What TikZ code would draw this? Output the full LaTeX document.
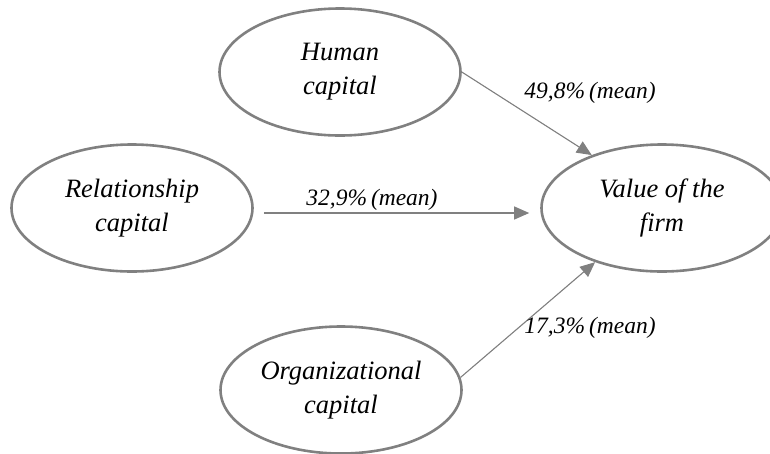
\documentclass[tikz,border=0pt]{standalone}
\usepackage{fontspec}
\setmainfont{Liberation Serif}
\usetikzlibrary{shapes.geometric,arrows.meta}
\definecolor{edgegrey}{HTML}{808080}
\begin{document}
\begin{tikzpicture}[x=1pt,y=-1pt,
  capbox/.style={ellipse,draw=edgegrey,line width=2.6pt,minimum width=241pt,minimum height=127pt,
    align=center,font=\fontsize{26.5}{34}\selectfont\itshape,inner sep=0pt},
  link/.style={draw=edgegrey,line width=1.1pt,-{Triangle[length=15pt,width=13pt]},fill=edgegrey},
  pct/.style={font=\fontsize{23.5}{26}\selectfont\itshape,inner sep=0pt}]
\useasboundingbox (0,0) rectangle (770,453);
\clip (0,0) rectangle (770,453);
\node[capbox] (h) at (340,72) {Human\\capital};
\node[capbox] (r) at (132,208) {Relationship\\capital};
\node[capbox] (v) at (662,208) {Value of the\\firm};
\node[capbox] (o) at (341,390) {Organizational\\capital};
\draw[link] (h.east) -- (v.143);
\draw[link,shorten <=10pt,shorten >=11pt] ([yshift=-5pt]r.east) -- ([yshift=-5pt]v.west);
\draw[link] (o.6) -- (v.-141);
\node[pct] (lh) at (590,93) {49,8\%\,(mean)};
\node[pct] (lr) at (372,200) {32,9\%\,(mean)};
\node[pct] (lo) at (590,328) {17,3\%\,(mean)};
\end{tikzpicture}
\end{document}
